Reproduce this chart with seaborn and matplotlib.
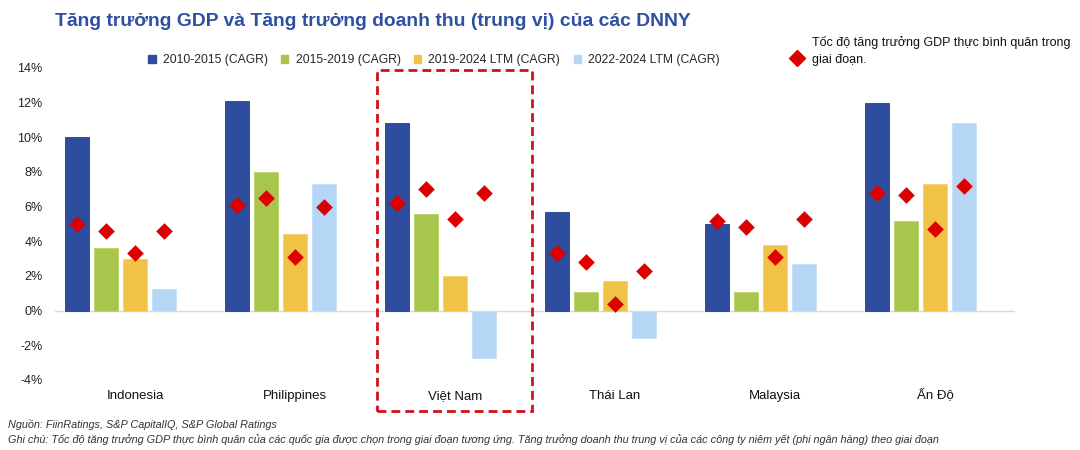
import numpy as np
import pandas as pd
import matplotlib
matplotlib.use("Agg")
import matplotlib.pyplot as plt
from matplotlib.patches import Patch, Rectangle
from matplotlib.lines import Line2D
from matplotlib.ticker import FuncFormatter
from matplotlib.transforms import blended_transform_factory
import seaborn as sns

# Data (%)
countries = ["Indonesia", "Philippines", "Việt Nam", "Thái Lan", "Malaysia", "Ấn Độ"]
periods = ["2010-2015 (CAGR)", "2015-2019 (CAGR)", "2019-2024 LTM (CAGR)", "2022-2024 LTM (CAGR)"]

# median revenue growth of listed companies (bars)
rev_2010_2015 = [10.0, 12.1, 10.8, 5.7, 5.0, 12.0]
rev_2015_2019 = [3.6, 8.0, 5.6, 1.1, 1.1, 5.2]
rev_2019_2024 = [3.0, 4.4, 2.0, 1.7, 3.8, 7.3]
rev_2022_2024 = [1.25, 7.3, -2.75, -1.6, 2.7, 10.8]

# average real GDP growth for the period (diamonds)
gdp_2010_2015 = [5.0, 6.1, 6.2, 3.3, 5.2, 6.8]
gdp_2015_2019 = [4.6, 6.5, 7.0, 2.8, 4.8, 6.7]
gdp_2019_2024 = [3.3, 3.1, 5.3, 0.4, 3.1, 4.7]
gdp_2022_2024 = [4.6, 6.0, 6.8, 2.3, 5.3, 7.2]

rev = [rev_2010_2015, rev_2015_2019, rev_2019_2024, rev_2022_2024]
gdp = [gdp_2010_2015, gdp_2015_2019, gdp_2019_2024, gdp_2022_2024]

bar_colors = ["#2E4D9E", "#A8C64C", "#F0C346", "#B6D6F6"]
edge_colors = ["#213F8E", "#B9D36A", "#F4D170", "#C8E0F8"]
gdp_color = "#DD0000"
title_color = "#2E4FA3"
frame_red = "#D0101A"

spacer = "_spacer"  # empty 5th slot, like the Excel cluster
df = pd.DataFrame({
    "country": countries * len(periods),
    "period": np.repeat(periods, len(countries)),
    "value": np.concatenate(rev),
})

sns.set_style("white")
plt.rcParams["font.family"] = ["Liberation Sans", "DejaVu Sans"]

fig = plt.figure(figsize=(10.8, 4.5), dpi=100)
ax = fig.add_axes([55 / 1080, 1 - 380 / 450, 960 / 1080, 312 / 450])

width = 0.905
palette = dict(zip(periods, bar_colors))
palette[spacer] = "white"
sns.barplot(
    data=df, x="country", y="value", hue="period",
    hue_order=periods + [spacer], order=countries,
    palette=palette, saturation=1, width=width, gap=0.2, errorbar=None,
    legend=False, ax=ax, linewidth=0.6,
)
# edge colours per series
face_to_edge = {matplotlib.colors.to_hex(c): e for c, e in zip(bar_colors, edge_colors)}
for p in ax.patches:
    key = matplotlib.colors.to_hex(p.get_facecolor())
    if key in face_to_edge:
        p.set_edgecolor(face_to_edge[key])

# diamonds at the bar centres
slot = width / 5
x_idx = np.arange(len(countries))
for i, vals in enumerate(gdp):
    ax.scatter(x_idx + (i - 2) * slot, vals, marker="D", s=72,
               color=gdp_color, zorder=5, linewidths=0)

ax.axhline(0, color="#D9D9D9", lw=1, zorder=0)
ax.set_xlim(-0.5, len(countries) - 0.5)
ax.set_ylim(-4, 14)
ax.set_yticks(np.arange(-4, 15, 2))
ax.yaxis.set_major_formatter(FuncFormatter(lambda v, _: f"{v:.0f}%"))
ax.set_xticks(x_idx, labels=countries, va="baseline")
ax.set_xlabel("")
ax.set_ylabel("")
ax.tick_params(axis="y", length=0, pad=9, labelsize=9, labelcolor="#222222")
ax.tick_params(axis="x", length=0, pad=14, labelsize=9.5, labelcolor="#111111")
sns.despine(ax=ax, left=True, bottom=True)

# dashed frame around Việt Nam
trans = blended_transform_factory(ax.transData, fig.transFigure)
vn = countries.index("Việt Nam")
ax.add_patch(Rectangle((vn - 0.49, 1 - 411 / 450), 0.97, (411 - 70) / 450,
                       transform=trans, fill=False, edgecolor=frame_red,
                       lw=2, linestyle=(0, (3.2, 1.8)), clip_on=False, zorder=6))

# legends
handles = [Patch(facecolor=c, edgecolor=c) for c in bar_colors]
fig.legend(handles, periods, loc="center", bbox_to_anchor=(434 / 1080, 1 - 60 / 450),
           ncol=4, frameon=False, fontsize=8.7, handlelength=0.6, handleheight=0.6,
           handletextpad=0.6, columnspacing=1.1)
fig.add_artist(Line2D([797 / 1080], [1 - 58 / 450], marker="D", markersize=8.5,
                      color=gdp_color, linestyle="none", transform=fig.transFigure))
fig.text(812 / 1080, 1 - 51 / 450,
         "Tốc độ tăng trưởng GDP thực bình quân trong\ngiai đoạn.",
         fontsize=9, va="center", linespacing=1.5, color="#111111")

fig.text(55 / 1080, 1 - 21 / 450,
         "Tăng trưởng GDP và Tăng trưởng doanh thu (trung vị) của các DNNY",
         fontsize=13.9, fontweight="bold", color=title_color, va="center")

fig.text(8 / 1080, 1 - 425 / 450, "Nguồn: FiinRatings, S&P CapitalIQ, S&P Global Ratings",
         fontsize=7.8, style="italic", color="#333333", va="center")
fig.text(8 / 1080, 1 - 440 / 450,
         "Ghi chú: Tốc độ tăng trưởng GDP thực bình quân của các quốc gia được chọn trong giai đoạn tương ứng. "
         "Tăng trưởng doanh thu trung vị của các công ty niêm yết (phi ngân hàng) theo giai đoạn",
         fontsize=7.8, style="italic", color="#333333", va="center")

fig.savefig("out.png", dpi=100)
